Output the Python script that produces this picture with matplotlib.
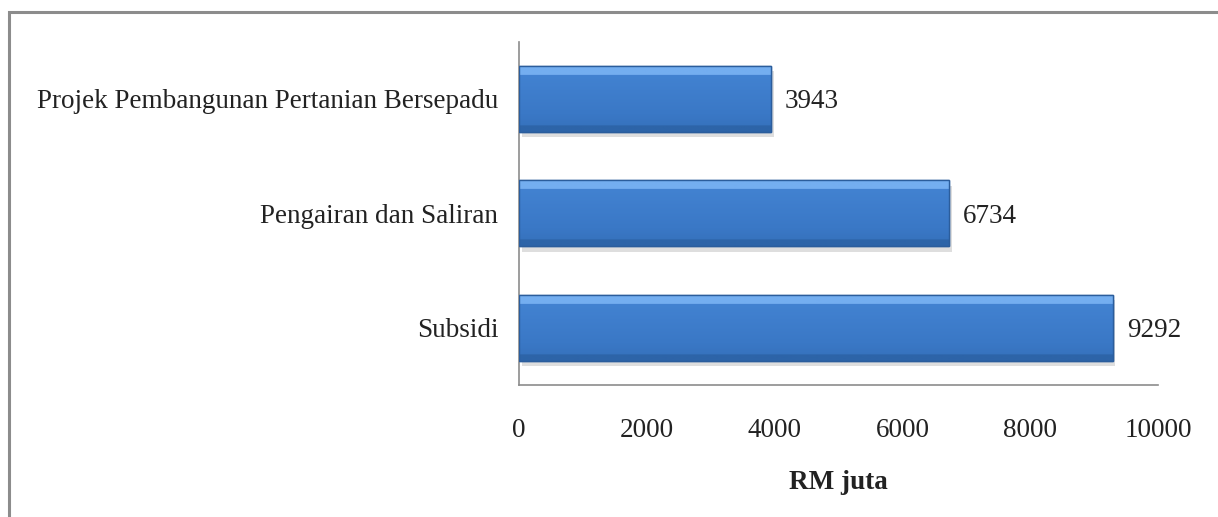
import numpy as np
import matplotlib.pyplot as plt
from matplotlib.patches import Rectangle
from matplotlib.colors import LinearSegmentedColormap

categories = ['Subsidi', 'Pengairan dan Saliran', 'Projek Pembangunan Pertanian Bersepadu']
values = [9292, 6734, 3943]
xticks = [0, 2000, 4000, 6000, 8000, 10000]

plt.rcParams['font.family'] = ['Liberation Serif', 'DejaVu Serif']
FS = 19.5

fig = plt.figure(figsize=(12.18, 5.17), dpi=100)
fig.patch.set_facecolor('white')

# outer frame (only top and left edges are visible in the picture)
fig.add_artist(Rectangle((9 / 1218, -0.1), 1.2, 1 - 12 / 517 + 0.1, transform=fig.transFigure,
                         fill=False, edgecolor='#8c8c8c', linewidth=2.2))

ax = fig.add_axes([519 / 1218, 1 - 385 / 517, 639 / 1218, 343.5 / 517])

y = np.arange(len(categories))
bh = 0.576
bars = ax.barh(y, values, height=bh, color='#3b7bcc', edgecolor='#2b5d9c', linewidth=1.0, zorder=3)

grad = LinearSegmentedColormap.from_list('bev', ['#2d64a8', '#3a78c6', '#4383d2', '#74aef0'])
for b in bars:
    x0, y0, w, h = b.get_x(), b.get_y(), b.get_width(), b.get_height()
    # drop shadow
    ax.add_patch(Rectangle((x0 + 40, y0 - 0.05), w, h, facecolor='#c4c4c4', edgecolor='none',
                           alpha=0.55, zorder=2))
    g = np.linspace(0, 1, 60).reshape(-1, 1)
    g = np.where(g > 0.88, 1.0, np.where(g < 0.1, 0.0, 0.25 + 0.5 * (g - 0.1)))
    im = ax.imshow(g, extent=(x0, x0 + w, y0, y0 + h), origin='lower', aspect='auto',
                   cmap=grad, vmin=0, vmax=1, zorder=3.5)
    im.set_clip_path(b)
    ax.add_patch(Rectangle((x0, y0), w, h, fill=False, edgecolor='#2b5d9c', linewidth=1.0, zorder=4))
    ax.text(x0 + w + 220, y0 + h / 2, str(int(w)), va='center_baseline', ha='left',
            fontsize=FS, color='#222222')

ax.set_xlim(0, 10000)
ax.set_ylim(-0.5, len(categories) - 0.5)
ax.set_xticks(xticks)
ax.set_xticklabels([str(t) for t in xticks], fontsize=FS)
ax.set_yticks(y)
ax.set_yticklabels(categories, fontsize=FS)
ax.tick_params(axis='both', length=0, colors='#222222')
ax.tick_params(axis='x', pad=24)
ax.tick_params(axis='y', pad=15)

for s in ['top', 'right']:
    ax.spines[s].set_visible(False)
for s in ['left', 'bottom']:
    ax.spines[s].set_color('#8c8c8c')
    ax.spines[s].set_linewidth(1.2)

ax.set_xlabel('RM juta', fontsize=FS, fontweight='bold', labelpad=19, color='#222222')

fig.savefig('out.png', dpi=100)
